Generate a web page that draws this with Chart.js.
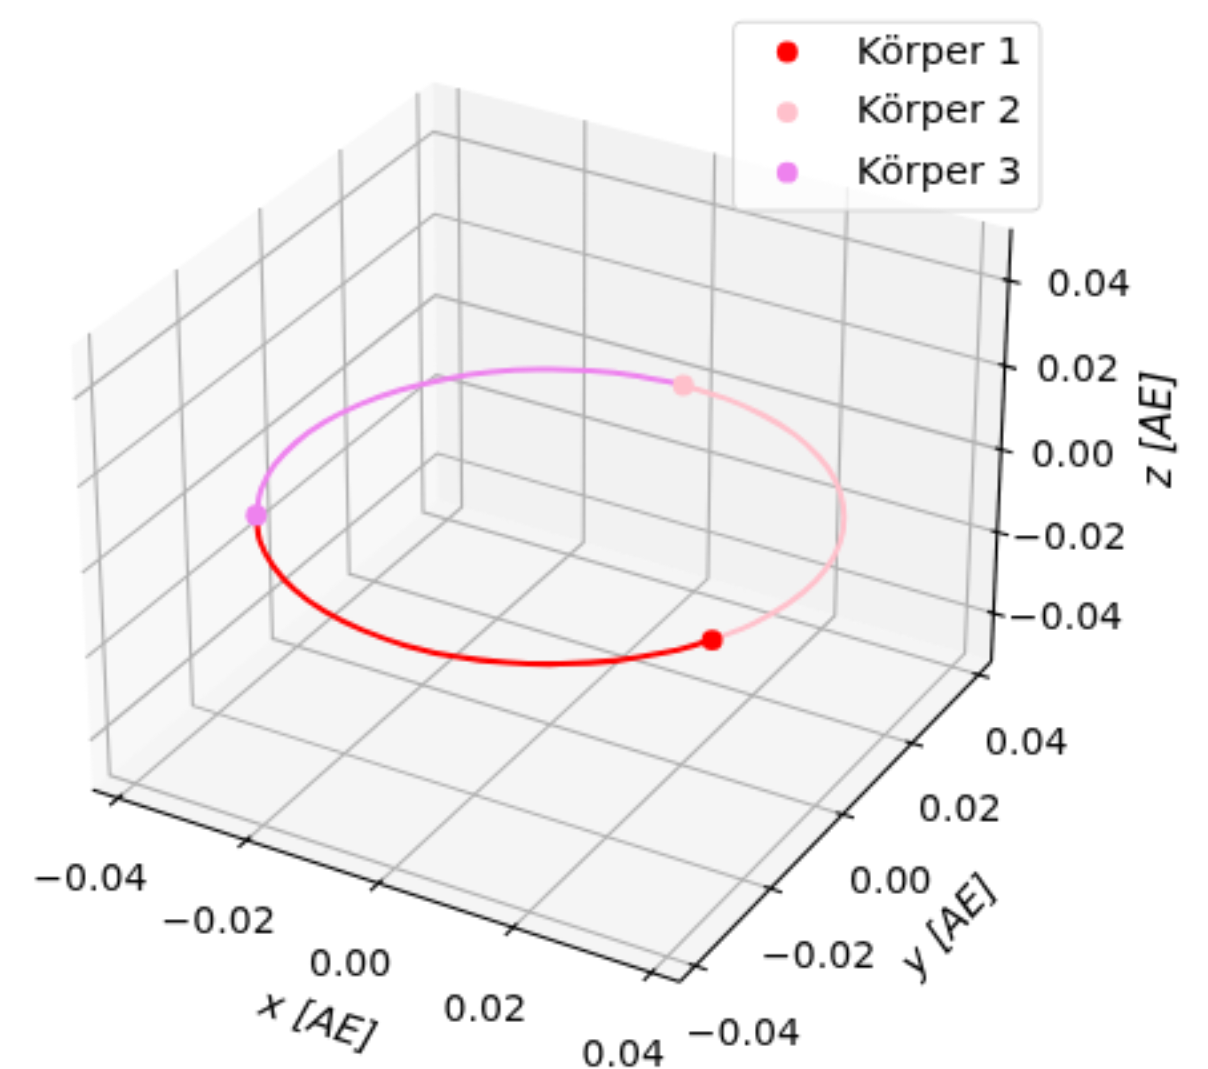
<!DOCTYPE html>
<html>
<head>
<meta charset="utf-8">
<title>Körper</title>
<script src="https://cdn.jsdelivr.net/npm/chart.js@4"></script>
<style>
  html, body { margin: 0; padding: 0; background: #fff; }
  canvas { display: block; }
</style>
</head>
<body>
<canvas id="orbit" width="1208" height="1069"></canvas>
<script>
const xTicks = [-0.04, -0.02, 0, 0.02, 0.04];
const yTicks = [-0.04, -0.02, 0, 0.02, 0.04];
const zTicks = [-0.04, -0.02, 0, 0.02, 0.04];
const tickLabels = ["\u22120.04", "\u22120.02", "0.00", "0.02", "0.04"];
const xLim = [-0.04404, 0.04404];
const yLim = [-0.04404, 0.04404];
const zLim = [-0.052, 0.052];

// Körper 1: Spur endet am roten Punkt
const body1X = [-0.0326, -0.0286, -0.0237, -0.0181, -0.0119, -0.0054, 0.0013, 0.0080, 0.0144, 0.0204, 0.0258, 0.0303, 0.0340];
const body1Y = [-0.0204, -0.0258, -0.0303, -0.0340, -0.0366, -0.0381, -0.0385, -0.0377, -0.0357, -0.0326, -0.0286, -0.0237, -0.0181];
const body2X = [0.0340, 0.0366, 0.0381, 0.0385, 0.0377, 0.0357, 0.0326, 0.0286, 0.0237, 0.0181, 0.0119, 0.0054, -0.0013];
const body2Y = [-0.0181, -0.0119, -0.0054, 0.0013, 0.0080, 0.0144, 0.0204, 0.0258, 0.0303, 0.0340, 0.0366, 0.0381, 0.0385];
const body3X = [-0.0013, -0.0080, -0.0144, -0.0204, -0.0258, -0.0303, -0.0340, -0.0366, -0.0381, -0.0385, -0.0377, -0.0357, -0.0326];
const body3Y = [0.0385, 0.0377, 0.0357, 0.0326, 0.0286, 0.0237, 0.0181, 0.0119, 0.0054, -0.0013, -0.0080, -0.0144, -0.0204];

const bodies = [
  { label: "Körper 1", color: "#ff0000", xs: body1X, ys: body1Y },
  { label: "Körper 2", color: "#ffc0cb", xs: body2X, ys: body2Y },
  { label: "Körper 3", color: "#ee82ee", xs: body3X, ys: body3Y },
];

// the source picture is a small raster blown up, so everything is in its scale
const FONT = '"DejaVu Sans"';
const blowUp = 2.66;

// view like a 3d plot: elev 30, azim -60, camera distance 10
const box = [1.19, 1.19, 0.893];
const U = [0.866, 0.5, 0];
const V = [-0.25, 0.433, 0.866];
const W = [0.433, -0.75, 0.5];

function project(x, y, z) {
  const d = [
    ((x - xLim[0]) / (xLim[1] - xLim[0]) - 0.5) * box[0],
    ((y - yLim[0]) / (yLim[1] - yLim[0]) - 0.5) * box[1],
    ((z - zLim[0]) / (zLim[1] - zLim[0]) - 0.5) * box[2],
  ];
  const dot = (a) => a[0] * d[0] + a[1] * d[1] + a[2] * d[2];
  const depth = 10 - dot(W);
  return { x: dot(U) / depth, y: dot(V) / depth };
}

function path(points, opts) {
  return Object.assign({
    data: points.map((p) => project(p[0], p[1], p[2])),
    showLine: true,
    pointRadius: 0,
    pointHoverRadius: 0,
    tension: 0,
    borderWidth: 0.8 * 1.389 * blowUp,
    borderColor: "#b0b0b0",
    backgroundColor: "transparent",
    fill: false,
  }, opts);
}

const [x0, x1] = xLim;
const [y0, y1] = yLim;
const [z0, z1] = zLim;
const datasets = [];

// panes
datasets.push(path([[x0, y0, z0], [x0, y1, z0], [x0, y1, z1], [x0, y0, z1]], { fill: "shape", backgroundColor: "rgba(242,242,242,0.5)", borderWidth: 0 }));
datasets.push(path([[x0, y1, z0], [x1, y1, z0], [x1, y1, z1], [x0, y1, z1]], { fill: "shape", backgroundColor: "rgba(230,230,230,0.5)", borderWidth: 0 }));
datasets.push(path([[x0, y0, z0], [x1, y0, z0], [x1, y1, z0], [x0, y1, z0]], { fill: "shape", backgroundColor: "rgba(236,236,236,0.5)", borderWidth: 0 }));

// grid
xTicks.forEach((t) => datasets.push(path([[t, y0, z0], [t, y1, z0], [t, y1, z1]])));
yTicks.forEach((t) => datasets.push(path([[x1, t, z0], [x0, t, z0], [x0, t, z1]])));
zTicks.forEach((t) => datasets.push(path([[x0, y0, t], [x0, y1, t], [x1, y1, t]])));

// axis lines and ticks
const axisLine = { borderColor: "#000000" };
datasets.push(path([[x0, y0, z0], [x1, y0, z0]], axisLine));
datasets.push(path([[x1, y0, z0], [x1, y1, z0]], axisLine));
datasets.push(path([[x1, y1, z0], [x1, y1, z1]], axisLine));
xTicks.forEach((t) => datasets.push(path([[t, y0 + 0.001, z0], [t, y0 - 0.002, z0]], axisLine)));
yTicks.forEach((t) => datasets.push(path([[x1 - 0.0009, t, z0], [x1 + 0.0017, t, z0]], axisLine)));
zTicks.forEach((t) => datasets.push(path([[x1 - 0.0009, y1, t], [x1 + 0.0017, y1, t]], axisLine)));

// orbits
bodies.forEach((b) => {
  datasets.push(path(b.xs.map((x, i) => [x, b.ys[i], 0]), {
    label: b.label,
    borderColor: b.color,
    borderWidth: 5.5,
    tension: 0.4,
  }));
});

// markers go on top of all the trails, each on the last point of its own trail
bodies.forEach((b) => {
  const last = b.xs.length - 1;
  datasets.push({
    data: [project(b.xs[last], b.ys[last], 0)],
    showLine: false,
    pointRadius: 10.5,
    pointHoverRadius: 10.5,
    pointBorderWidth: 0,
    backgroundColor: b.color,
  });
});

// chart.js paints the first dataset last
datasets.reverse();

function drawText(ctx, text, x, y, font, angle) {
  ctx.save();
  ctx.translate(x, y);
  ctx.rotate(angle || 0);
  ctx.font = font;
  ctx.fillStyle = "#000";
  ctx.textAlign = "center";
  ctx.textBaseline = "middle";
  ctx.fillText(text, 0, 0);
  ctx.restore();
}

const axisText = {
  id: "axisText",
  afterDraw(chart) {
    const { ctx, scales } = chart;
    const font = "37.5px " + FONT;
    const at = (p) => [scales.x.getPixelForValue(p.x), scales.y.getPixelForValue(p.y)];

    xTicks.forEach((t, i) => {
      const [px, py] = at(project(t, y0, z0));
      drawText(ctx, tickLabels[i], px - 28, py + 83, font);
    });
    yTicks.forEach((t, i) => {
      const [px, py] = at(project(x1, t, z0));
      drawText(ctx, tickLabels[i], px + 48, py + 69, font);
    });
    zTicks.forEach((t, i) => {
      const [px, py] = at(project(x1, y1, t));
      const shift = t < 0 ? 72 : t === 0 ? 72 : t < 0.03 ? 73 : 80;
      drawText(ctx, tickLabels[i], px + shift, py + 7, font);
    });

    const italic = "italic 40px " + FONT;
    drawText(ctx, "x [AE]", 317, 1020, italic, 0.32);
    drawText(ctx, "y [AE]", 950, 925, italic, -0.82);
    drawText(ctx, "z [AE]", 1160, 428, italic, -Math.PI / 2);
  },
};

const orbitLegend = {
  id: "orbitLegend",
  afterDraw(chart) {
    const { ctx } = chart;
    ctx.save();
    ctx.beginPath();
    ctx.roundRect(733, 22, 307, 188, 9);
    ctx.fillStyle = "rgba(255,255,255,0.8)";
    ctx.fill();
    ctx.strokeStyle = "rgba(204,204,204,0.8)";
    ctx.lineWidth = 2.7;
    ctx.stroke();
    bodies.forEach((b, i) => {
      const y = 52 + i * 60;
      ctx.beginPath();
      ctx.arc(787, y, 10.5, 0, Math.PI * 2);
      ctx.fillStyle = b.color;
      ctx.fill();
      ctx.font = "39px " + FONT;
      ctx.fillStyle = "#000";
      ctx.textAlign = "left";
      ctx.textBaseline = "middle";
      ctx.fillText(b.label, 856, y + 1);
    });
    ctx.restore();
  },
};

new Chart(document.getElementById("orbit").getContext("2d"), {
  type: "scatter",
  data: { datasets },
  plugins: [axisText, orbitLegend],
  options: {
    responsive: false,
    animation: false,
    devicePixelRatio: 1 / blowUp,
    layout: { padding: 0, autoPadding: false },
    plugins: { legend: { display: false }, tooltip: { enabled: false } },
    scales: {
      x: { type: "linear", display: false, min: -0.09735, max: 0.11646 },
      y: { type: "linear", display: false, min: -0.09912, max: 0.09009 },
    },
  },
});
</script>
</body>
</html>
